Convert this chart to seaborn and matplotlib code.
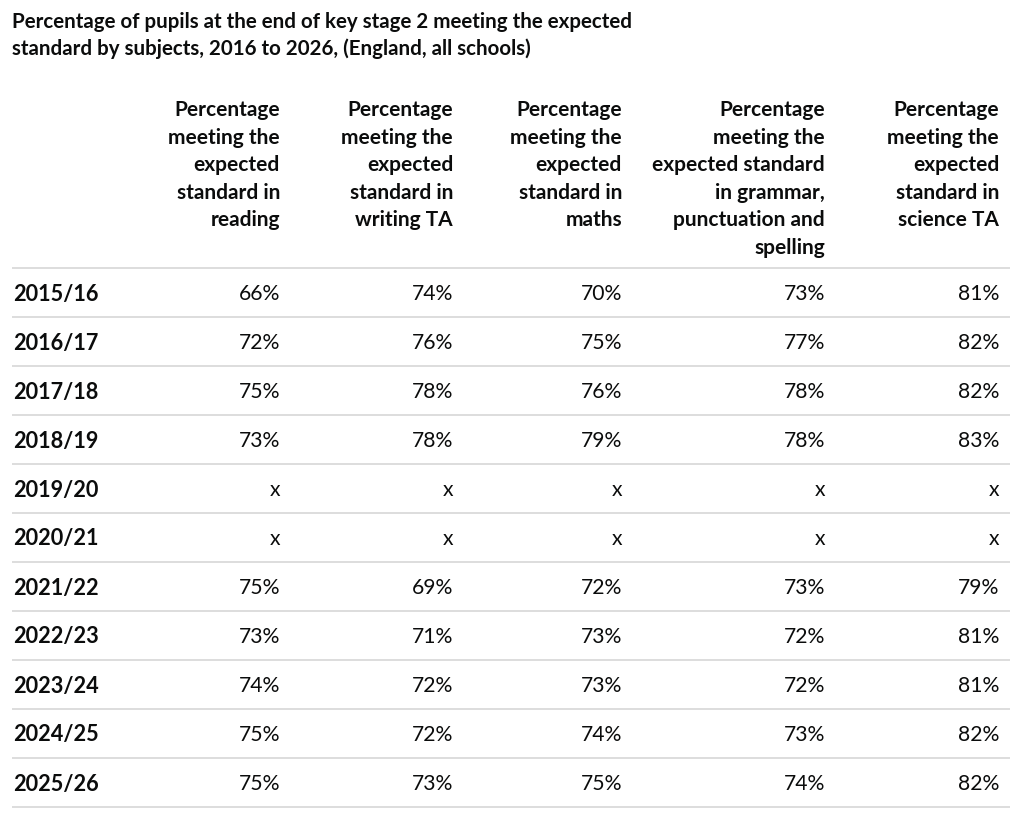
import matplotlib
matplotlib.use("Agg")
import matplotlib.pyplot as plt
import seaborn as sns

title = ("Percentage of pupils at the end of key stage 2 meeting the expected\n"
         "standard by subjects, 2016 to 2026, (England, all schools)")
headers = [
    "Percentage\nmeeting the\nexpected\nstandard in\nreading",
    "Percentage\nmeeting the\nexpected\nstandard in\nwriting TA",
    "Percentage\nmeeting the\nexpected\nstandard in\nmaths",
    "Percentage\nmeeting the\nexpected standard\nin grammar,\npunctuation and\nspelling",
    "Percentage\nmeeting the\nexpected\nstandard in\nscience TA",
]
years = ["2015/16", "2016/17", "2017/18", "2018/19", "2019/20", "2020/21",
         "2021/22", "2022/23", "2023/24", "2024/25", "2025/26"]
reading = ["66%", "72%", "75%", "73%", "x", "x", "75%", "73%", "74%", "75%", "75%"]
writing = ["74%", "76%", "78%", "78%", "x", "x", "69%", "71%", "72%", "72%", "73%"]
maths = ["70%", "75%", "76%", "79%", "x", "x", "72%", "73%", "73%", "74%", "75%"]
gps = ["73%", "77%", "78%", "78%", "x", "x", "73%", "72%", "72%", "73%", "74%"]
science = ["81%", "82%", "82%", "83%", "x", "x", "79%", "81%", "81%", "82%", "82%"]
columns = [reading, writing, maths, gps, science]

sns.set_theme(style="white")
plt.rcParams['font.family'] = ['Lato', 'DejaVu Sans']

W, H = 1024, 823
fig = plt.figure(figsize=(W / 100, H / 100), dpi=100)
ax = fig.add_axes([0, 0, 1, 1])
ax.set_xlim(0, W)
ax.set_ylim(H, 0)
ax.axis("off")

txt = "#0b0c0c"
ax.text(12, 12, title, ha="left", va="top", fontsize=14.8, fontweight="bold",
        color=txt, linespacing=1.38)

col_right = [280, 453, 622, 825, 999]
for x, h in zip(col_right, headers):
    ax.text(x, 100, h, ha="right", va="top", fontsize=15, fontweight="bold",
            color=txt, linespacing=1.47)

top = 268
step = 49
left, right = 12, 1010
ax.hlines([top + i * step for i in range(len(years) + 1)], left, right,
          color="#dadada", linewidth=1.3)

for i, y in enumerate(years):
    cy = top + step * (i + 0.5) + 1.5
    ax.text(13, cy, y, ha="left", va="center", fontsize=15.6,
            fontweight="bold", color=txt)
    for x, col in zip(col_right, columns):
        ax.text(x, cy, col[i], ha="right", va="center", fontsize=15.2,
                color=txt)

fig.savefig("out.png", dpi=100, facecolor="white")
